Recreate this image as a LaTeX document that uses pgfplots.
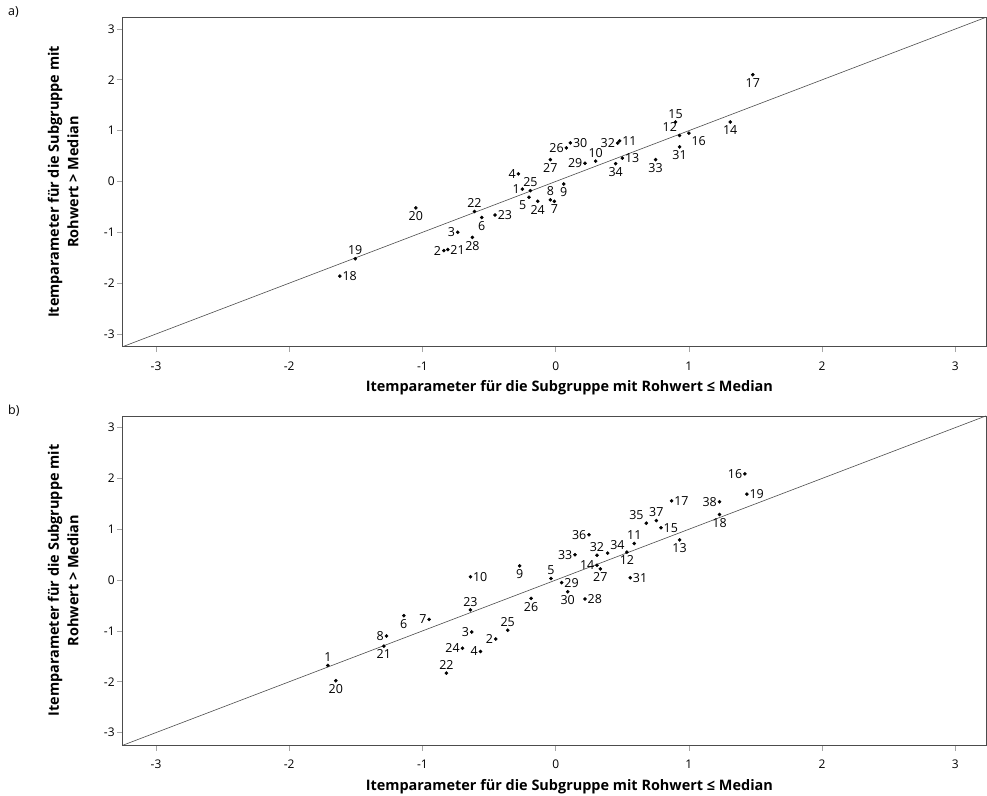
\documentclass[border=0pt]{standalone}
\usepackage{pgfplots}
\pgfplotsset{compat=1.18}
\usepackage{fontspec}
\setmainfont{Open Sans}

\pgfplotsset{
  itemstyle/.style={
    scale only axis, width=863.3bp, height=329.4bp,
    xmin=-3.25, xmax=3.23, ymin=-3.25, ymax=3.23,
    xtick={-3,-2,-1,0,1,2,3}, ytick={-3,-2,-1,0,1,2,3},
    tick align=outside, tick pos=left,
    major tick length=5.5bp,
    axis line style={gray!60!black, line width=0.7bp},
    tick style={gray!70, line width=0.7bp},
    /pgf/number format/assume math mode=true,
    tick label style={font=\fontsize{12}{14}\selectfont},
    xticklabel style={yshift=-6bp},
    yticklabel style={xshift=1bp},
    xlabel={Itemparameter für die Subgruppe mit Rohwert ≤ Median},
    ylabel={Itemparameter für die Subgruppe mit\\Rohwert > Median},
    every axis x label/.style={at={(axis description cs:0.5,0)}, anchor=north, yshift=-34bp, xshift=15bp,
      inner sep=0pt, font=\bfseries\fontsize{14.5}{17}\selectfont},
    every axis y label/.style={at={(axis description cs:-0.051,0.5)}, rotate=90, anchor=south,
      inner sep=0pt, align=center, font=\bfseries\fontsize{14.5}{19.5}\selectfont},
    clip=false,
  },
  pts/.style={
    only marks, mark=*, mark size=1.6bp, color=black,
    point meta=explicit symbolic,
    nodes near coords,
    nodes near coords style={anchor=#1, font=\fontsize{12.5}{15}\selectfont, inner xsep=2.5bp, inner ysep=3.5bp, text=black},
  },
}

\begin{document}
\begin{tikzpicture}
\useasboundingbox (0,0) rectangle (987bp,796bp);
\node[anchor=north west, inner sep=0pt, font=\fontsize{12.5}{15}\selectfont] at (8bp,790bp) {a)};
\node[anchor=north west, inner sep=0pt, font=\fontsize{12.5}{15}\selectfont] at (8bp,391bp) {b)};
\begin{axis}[itemstyle, at={(122.7bp,449.3bp)}, anchor=south west]
\addplot[gray!60!black, line width=0.6bp] coordinates {(-3.25,-3.25) (3.23,3.23)};
% labels below
\addplot[pts=north] table[meta=lab] {
x y lab
1.48 2.10 17
1.31 1.17 14
0.93 0.68 31
0.75 0.43 33
0.45 0.35 34
-0.04 0.43 27
-0.135 -0.39 24
-0.01 -0.39 7
0.06 -0.05 9
-0.555 -0.71 6
-1.05 -0.52 20
-0.625 -1.10 28
};
% labels above
\addplot[pts=south] table[meta=lab] {
x y lab
0.90 1.17 15
0.30 0.40 10
-0.19 -0.18 25
-0.04 -0.36 8
-0.61 -0.59 22
-1.505 -1.52 19
};
% labels left
\addplot[pts=east] table[meta=lab] {
x y lab
0.465 0.755 32
0.22 0.36 29
0.08 0.66 26
-0.28 0.15 4
-0.25 -0.15 1
-0.735 -1.00 3
-0.84 -1.36 2
};
% labels right
\addplot[pts=west] table[meta=lab] {
x y lab
0.50 0.46 13
0.48 0.80 11
0.11 0.76 30
-0.455 -0.66 23
-0.81 -1.34 21
-1.62 -1.86 18
};
\addplot[pts=south east] table[meta=lab] {
x y lab
0.93 0.905 12
};
\addplot[pts=north west] table[meta=lab] {
x y lab
1.00 0.95 16
};
\addplot[pts=north east] table[meta=lab] {
x y lab
-0.20 -0.31 5
};
\end{axis}
\begin{axis}[itemstyle, at={(122.7bp,50.7bp)}, anchor=south west]
\addplot[gray!60!black, line width=0.6bp] coordinates {(-3.25,-3.25) (3.23,3.23)};
% labels below
\addplot[pts=north] table[meta=lab] {
x y lab
1.23 1.29 18
0.93 0.79 13
0.535 0.55 12
0.335 0.22 27
0.09 -0.23 30
-0.27 0.28 9
-0.185 -0.36 26
-1.14 -0.70 6
-1.65 -1.98 20
-1.29 -1.30 21
};
% labels above
\addplot[pts=south] table[meta=lab] {
x y lab
0.755 1.17 37
0.59 0.72 11
0.31 0.49 32
-0.035 0.03 5
-0.64 -0.585 23
-0.36 -0.985 25
-1.71 -1.68 1
-0.82 -1.83 22
};
% labels left
\addplot[pts=east] table[meta=lab] {
x y lab
1.42 2.09 16
1.23 1.54 38
0.25 0.89 36
0.145 0.50 33
0.31 0.29 14
-0.95 -0.775 7
-0.63 -1.02 3
-1.27 -1.10 8
-0.70 -1.34 24
-0.565 -1.405 4
-0.45 -1.16 2
};
% labels right
\addplot[pts=west] table[meta=lab] {
x y lab
1.435 1.69 19
0.87 1.56 17
0.79 1.03 15
0.56 0.045 31
0.045 -0.05 29
0.22 -0.37 28
-0.64 0.065 10
};
\addplot[pts=south east] table[meta=lab] {
x y lab
0.68 1.12 35
};
\addplot[pts=south west] table[meta=lab] {
x y lab
0.39 0.53 34
};
\end{axis}
\end{tikzpicture}
\end{document}
